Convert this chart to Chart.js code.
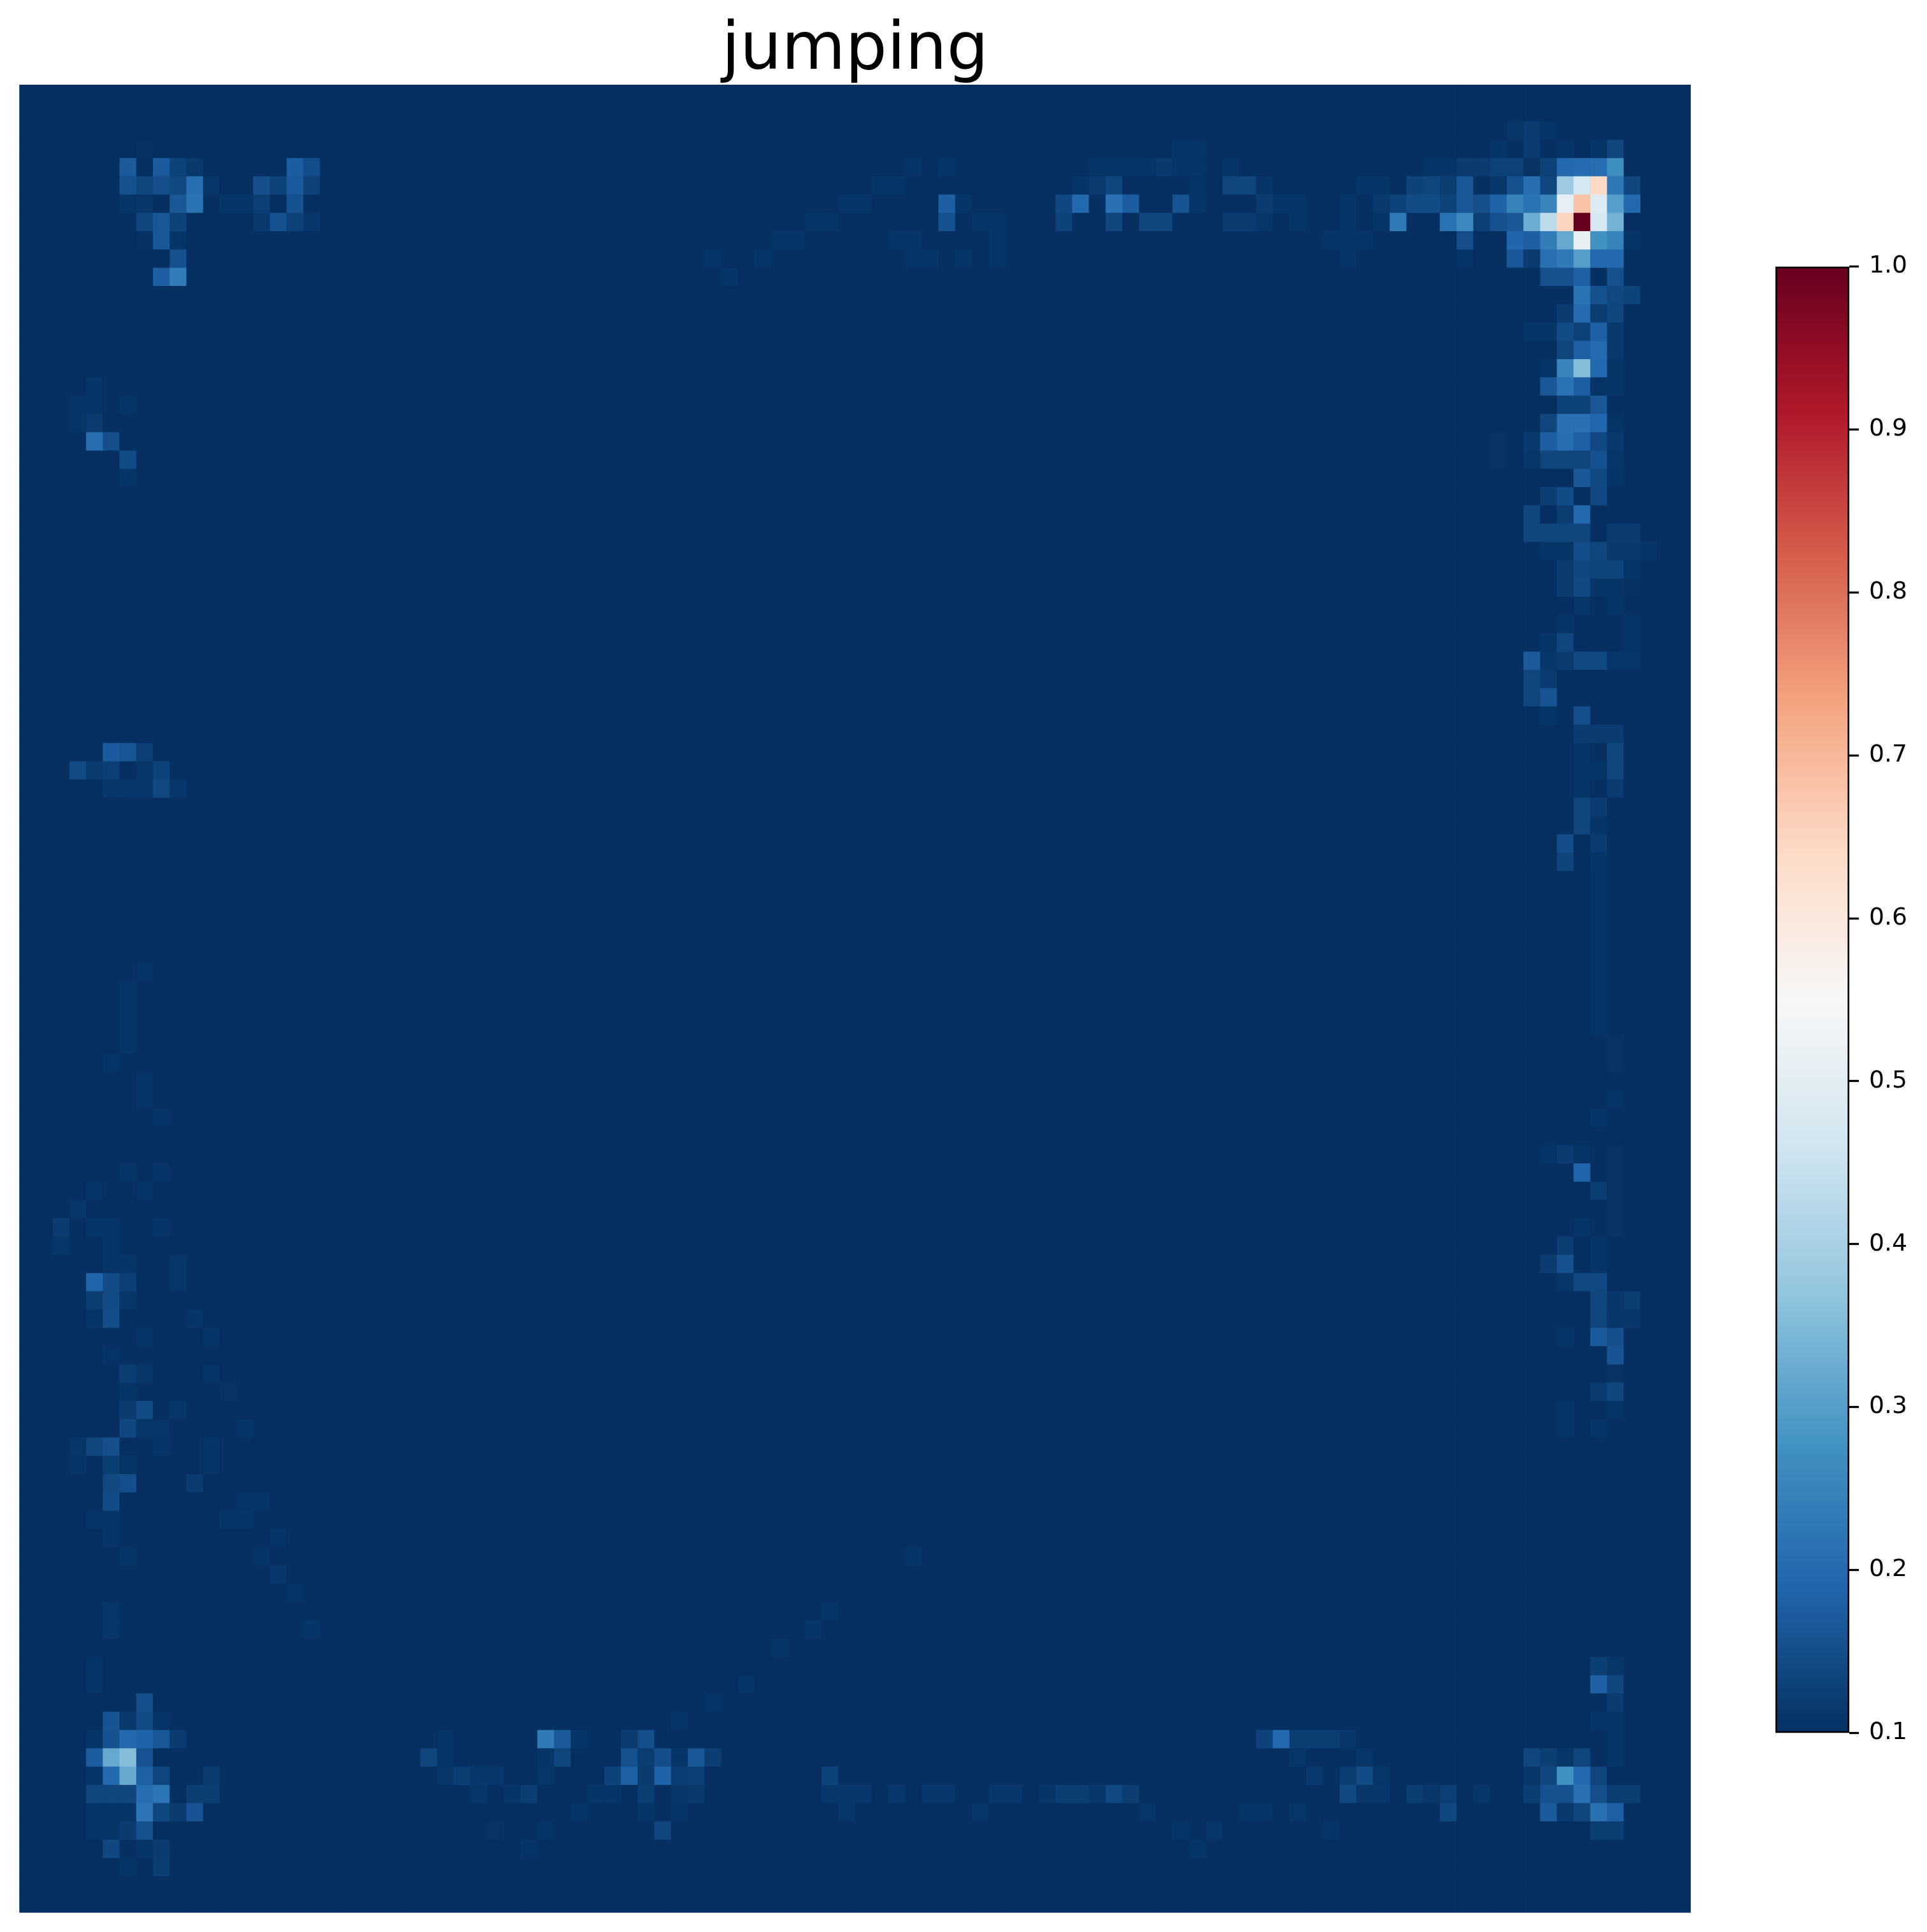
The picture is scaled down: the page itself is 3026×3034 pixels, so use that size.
<!DOCTYPE html>
<html>
<head>
<meta charset="utf-8">
<title>jumping</title>
<script src="https://cdn.jsdelivr.net/npm/chart.js@4"></script>
<style>
    html, body { margin: 0; padding: 0; background: #fff; overflow: hidden; }
    #heat { position: absolute; left: 0; top: 0; }
    #bar { position: absolute; left: 2780px; top: 380px; }
</style>
</head>
<body>
<canvas id="heat" width="3026" height="3034"></canvas>
<canvas id="bar" width="240" height="2380"></canvas>
<script>
const titleText = 'jumping';
const columnLabels = Array.from({ length: 100 }, (_, i) => i);
const rowLabels = Array.from({ length: 100 }, (_, i) => i);
const colorbarTicks = [0.1, 0.2, 0.3, 0.4, 0.5, 0.6, 0.7, 0.8, 0.9, 1.0];
const vMin = 0.1;
const vMax = 1.0;

// RdBu_r
const rdbu = ['#053061', '#2166ac', '#4393c3', '#92c5de', '#d1e5f0', '#f7f7f7', '#fddbc7', '#f4a582', '#d6604d', '#b2182b', '#67001f'];

// everything not listed sits at vMin
// [row, col, value]
const hotCells = [
    [2,89,.11],[2,90,.118],[2,91,.108],
    [3,7,.103],[3,53,.101],[3,69,.108],[3,70,.108],[3,88,.108],[3,90,.118],[3,92,.108],[3,94,.108],[3,95,.135],
    [4,6,.17],[4,8,.17],[4,9,.13],[4,10,.115],[4,16,.175],[4,17,.148],[4,53,.108],[4,55,.108],[4,64,.108],[4,65,.108],[4,66,.108],[4,67,.108],[4,68,.115],[4,69,.108],[4,70,.108],[4,72,.108],[4,84,.108],[4,85,.108],[4,86,.118],[4,87,.118],[4,88,.128],[4,89,.128],[4,90,.105],[4,91,.128],[4,92,.195],[4,93,.2],[4,94,.205],[4,95,.27],
    [5,6,.155],[5,7,.135],[5,8,.15],[5,9,.14],[5,10,.205],[5,11,.11],[5,14,.15],[5,15,.13],[5,16,.168],[5,17,.128],[5,51,.108],[5,52,.108],[5,63,.108],[5,64,.118],[5,65,.135],[5,70,.106],[5,72,.135],[5,73,.135],[5,74,.108],[5,80,.108],[5,81,.108],[5,83,.13],[5,84,.135],[5,85,.12],[5,86,.165],[5,88,.112],[5,89,.155],[5,90,.205],[5,91,.135],[5,92,.385],[5,93,.47],[5,94,.64],[5,95,.225],[5,96,.135],
    [6,6,.108],[6,7,.112],[6,9,.165],[6,10,.215],[6,12,.108],[6,13,.108],[6,14,.125],[6,16,.155],[6,49,.108],[6,50,.108],[6,55,.178],[6,56,.108],[6,62,.138],[6,63,.195],[6,65,.212],[6,66,.175],[6,69,.16],[6,70,.108],[6,74,.118],[6,75,.108],[6,76,.108],[6,79,.108],[6,81,.115],[6,82,.13],[6,83,.145],[6,84,.145],[6,85,.13],[6,86,.165],[6,87,.15],[6,88,.185],[6,89,.245],[6,90,.215],[6,91,.25],[6,92,.51],[6,93,.68],[6,94,.49],[6,95,.3],[6,96,.195],
    [7,7,.135],[7,8,.165],[7,9,.13],[7,14,.115],[7,15,.155],[7,16,.128],[7,17,.112],[7,47,.108],[7,48,.108],[7,55,.155],[7,57,.108],[7,58,.108],[7,62,.13],[7,65,.135],[7,67,.135],[7,68,.135],[7,72,.118],[7,73,.118],[7,74,.11],[7,76,.108],[7,79,.108],[7,81,.108],[7,82,.23],[7,85,.215],[7,86,.26],[7,87,.125],[7,88,.155],[7,89,.165],[7,90,.325],[7,91,.43],[7,92,.65],[7,93,1.0],[7,94,.47],[7,95,.335],
    [8,7,.102],[8,8,.165],[8,9,.108],[8,45,.108],[8,46,.108],[8,52,.108],[8,53,.108],[8,58,.108],[8,78,.108],[8,79,.108],[8,80,.108],[8,86,.15],[8,89,.19],[8,90,.178],[8,91,.235],[8,92,.32],[8,93,.515],[8,94,.275],[8,95,.245],[8,96,.106],
    [9,9,.155],[9,41,.108],[9,44,.108],[9,53,.108],[9,54,.108],[9,56,.108],[9,58,.108],[9,79,.108],[9,86,.106],[9,89,.165],[9,90,.118],[9,91,.21],[9,92,.23],[9,93,.3],[9,94,.195],[9,95,.195],
    [10,8,.178],[10,9,.235],[10,42,.108],[10,91,.155],[10,92,.155],[10,93,.18],[10,95,.155],
    [11,93,.215],[11,94,.155],[11,95,.14],[11,96,.13],
    [12,92,.118],[12,93,.2],[12,94,.12],[12,95,.135],
    [13,90,.108],[13,91,.108],[13,92,.145],[13,93,.13],[13,94,.18],[13,95,.115],
    [14,92,.135],[14,93,.18],[14,94,.2],[14,95,.115],
    [15,91,.106],[15,92,.25],[15,93,.355],[15,94,.197],[15,95,.108],
    [16,4,.108],[16,91,.165],[16,92,.215],[16,93,.178],[16,94,.107],[16,95,.108],
    [17,3,.108],[17,4,.108],[17,6,.108],[17,92,.13],[17,93,.13],[17,94,.165],
    [18,3,.106],[18,4,.118],[18,91,.135],[18,92,.212],[18,93,.213],[18,94,.192],[18,95,.107],
    [19,4,.205],[19,5,.15],[19,88,.105],[19,90,.115],[19,91,.178],[19,92,.205],[19,93,.18],[19,94,.14],[19,95,.115],
    [20,6,.145],[20,88,.105],[20,90,.11],[20,91,.135],[20,92,.135],[20,93,.135],[20,94,.155],[20,95,.11],
    [21,6,.108],[21,93,.165],[21,94,.14],[21,95,.108],
    [22,91,.122],[22,92,.145],[22,94,.14],
    [23,90,.135],[23,92,.12],[23,93,.195],
    [24,90,.135],[24,91,.135],[24,92,.135],[24,93,.135],[24,95,.118],[24,96,.118],
    [25,91,.108],[25,92,.108],[25,93,.148],[25,94,.135],[25,95,.115],[25,96,.115],[25,97,.108],
    [26,92,.118],[26,93,.138],[26,94,.133],[26,95,.133],[26,96,.108],
    [27,92,.118],[27,93,.142],[27,94,.108],[27,95,.108],[27,96,.104],
    [28,93,.11],[28,95,.108],
    [29,92,.108],[29,96,.106],
    [30,91,.108],[30,92,.135],[30,96,.106],
    [31,90,.17],[31,91,.11],[31,92,.118],[31,93,.14],[31,94,.14],[31,95,.11],[31,96,.11],
    [32,90,.135],[32,91,.118],
    [33,90,.135],[33,91,.16],
    [34,91,.108],[34,93,.15],
    [35,93,.118],[35,94,.118],[35,95,.118],
    [36,5,.172],[36,6,.162],[36,7,.125],[36,93,.108],[36,95,.135],
    [37,3,.145],[37,4,.118],[37,5,.125],[37,7,.11],[37,8,.13],[37,93,.108],[37,94,.107],[37,95,.135],
    [38,5,.112],[38,6,.112],[38,7,.112],[38,8,.14],[38,9,.112],[38,93,.108],[38,95,.118],
    [39,93,.135],[39,94,.118],
    [40,93,.135],[40,94,.108],
    [41,92,.148],[41,94,.118],
    [42,92,.133],[42,94,.108],
    [43,94,.107],[44,94,.107],[45,94,.107],[46,94,.107],[47,94,.107],
    [48,7,.106],[48,94,.107],
    [49,6,.108],[49,94,.107],
    [50,6,.108],[50,94,.107],
    [51,6,.108],[51,94,.107],
    [52,6,.108],[52,95,.105],
    [53,5,.106],[53,95,.105],
    [54,7,.108],
    [55,7,.108],[55,95,.107],
    [56,8,.106],[56,94,.108],
    [58,91,.106],[58,92,.118],[58,93,.108],[58,95,.105],
    [59,6,.108],[59,8,.106],[59,93,.19],[59,95,.105],
    [60,4,.108],[60,7,.106],[60,94,.12],[60,95,.105],
    [61,3,.11],[61,95,.105],
    [62,2,.118],[62,4,.108],[62,5,.108],[62,8,.108],[62,93,.108],[62,95,.105],
    [63,2,.11],[63,5,.108],[63,92,.122],[63,94,.108],
    [64,5,.108],[64,6,.108],[64,9,.11],[64,91,.118],[64,92,.155],[64,94,.108],
    [65,4,.188],[65,5,.145],[65,6,.125],[65,9,.11],[65,92,.11],[65,93,.14],[65,94,.14],
    [66,4,.12],[66,5,.145],[66,6,.11],[66,94,.135],[66,95,.112],[66,96,.122],
    [67,4,.107],[67,5,.148],[67,10,.108],[67,94,.135],[67,95,.11],[67,96,.112],
    [68,7,.108],[68,11,.107],[68,92,.108],[68,94,.168],[68,95,.15],
    [69,5,.106],[69,95,.16],
    [70,6,.12],[70,7,.11],[70,11,.107],[70,95,.105],
    [71,6,.108],[71,12,.105],[71,94,.118],[71,95,.135],
    [72,6,.118],[72,7,.145],[72,9,.11],[72,92,.108],[72,95,.107],
    [73,6,.138],[73,7,.11],[73,8,.11],[73,13,.108],[73,92,.108],[73,94,.108],
    [74,3,.11],[74,4,.135],[74,5,.15],[74,8,.108],[74,11,.108],
    [75,3,.108],[75,5,.122],[75,6,.108],[75,11,.108],
    [76,5,.14],[76,6,.15],[76,10,.118],
    [77,5,.145],[77,13,.107],[77,14,.107],
    [78,4,.108],[78,5,.108],[78,12,.108],[78,13,.108],
    [79,5,.108],[79,15,.107],
    [80,6,.108],[80,14,.107],[80,53,.108],
    [81,15,.112],
    [82,16,.107],
    [83,5,.11],[83,48,.108],
    [84,5,.11],[84,17,.108],[84,47,.108],
    [85,45,.108],
    [86,4,.107],[86,94,.122],[86,95,.11],
    [87,4,.107],[87,43,.106],[87,94,.18],[87,95,.135],
    [88,7,.15],[88,41,.107],[88,95,.118],
    [89,5,.16],[89,6,.115],[89,7,.145],[89,8,.108],[89,39,.108],[89,94,.108],[89,95,.108],
    [90,4,.108],[90,5,.155],[90,6,.195],[90,7,.185],[90,8,.165],[90,9,.118],[90,25,.108],[90,31,.23],[90,32,.168],[90,33,.108],[90,36,.118],[90,37,.15],[90,74,.13],[90,75,.197],[90,76,.122],[90,77,.122],[90,78,.122],[90,79,.112],[90,95,.108],
    [91,4,.175],[91,5,.32],[91,6,.355],[91,7,.16],[91,24,.135],[91,25,.108],[91,31,.108],[91,32,.135],[91,36,.155],[91,37,.12],[91,38,.148],[91,39,.108],[91,40,.165],[91,41,.122],[91,76,.11],[91,80,.11],[91,90,.135],[91,91,.122],[91,92,.11],[91,93,.135],[91,95,.108],
    [92,4,.108],[92,5,.197],[92,6,.32],[92,7,.18],[92,8,.135],[92,11,.118],[92,25,.11],[92,26,.122],[92,27,.112],[92,28,.112],[92,31,.11],[92,35,.13],[92,36,.18],[92,37,.118],[92,38,.185],[92,39,.122],[92,40,.125],[92,48,.13],[92,77,.115],[92,79,.122],[92,80,.145],[92,81,.11],[92,90,.11],[92,91,.138],[92,92,.275],[92,93,.197],[92,94,.135],
    [93,4,.135],[93,5,.135],[93,6,.135],[93,7,.205],[93,8,.22],[93,10,.122],[93,11,.122],[93,27,.11],[93,29,.108],[93,30,.122],[93,34,.108],[93,35,.108],[93,37,.12],[93,39,.11],[93,40,.115],[93,48,.112],[93,49,.112],[93,50,.112],[93,52,.112],[93,54,.112],[93,55,.112],[93,58,.112],[93,59,.112],[93,61,.108],[93,62,.122],[93,63,.122],[93,64,.112],[93,65,.14],[93,66,.122],[93,79,.14],[93,80,.112],[93,81,.112],[93,83,.122],[93,84,.112],[93,85,.125],[93,87,.11],[93,90,.122],[93,91,.155],[93,92,.155],[93,93,.21],[93,94,.15],[93,95,.122],[93,96,.122],
    [94,4,.108],[94,5,.108],[94,6,.108],[94,7,.218],[94,8,.138],[94,9,.118],[94,10,.16],[94,33,.108],[94,37,.108],[94,39,.108],[94,49,.11],[94,57,.11],[94,67,.11],[94,73,.108],[94,74,.108],[94,76,.11],[94,85,.138],[94,91,.17],[94,92,.115],[94,93,.135],[94,94,.213],[94,95,.18],
    [95,4,.108],[95,5,.108],[95,6,.118],[95,7,.155],[95,28,.105],[95,31,.107],[95,38,.135],[95,69,.108],[95,71,.11],[95,78,.108],[95,94,.122],[95,95,.122],
    [96,5,.138],[96,7,.108],[96,8,.118],[96,30,.107],[96,70,.108],
    [97,6,.108],[97,8,.122]
];

const values = new Map(hotCells.map(c => [c[0] + ':' + c[1], c[2]]));

function hexToRgb(hex) {
    return [1, 3, 5].map(i => parseInt(hex.slice(i, i + 2), 16));
}

function cellColor(row, col) {
    const v = values.has(row + ':' + col) ? values.get(row + ':' + col) : vMin;
    const t = Math.min(1, Math.max(0, (v - vMin) / (vMax - vMin))) * (rdbu.length - 1);
    const i = Math.min(rdbu.length - 2, Math.floor(t));
    const a = hexToRgb(rdbu[i]);
    const b = hexToRgb(rdbu[i + 1]);
    const rgb = a.map((x, k) => Math.round(x + (b[k] - x) * (t - i)));
    return `rgb(${rgb[0]},${rgb[1]},${rgb[2]})`;
}

Chart.defaults.font.family = '"DejaVu Sans"';
Chart.defaults.color = '#000';
Chart.defaults.animation = false;

// stops white showing through the seams between bars
const areaFill = {
    id: 'areaFill',
    beforeDatasetsDraw(chart) {
        const { ctx, chartArea: a } = chart;
        ctx.save();
        ctx.fillStyle = rdbu[0];
        ctx.fillRect(a.left, a.top, a.width, a.height);
        ctx.restore();
    }
};

// one stacked dataset per image row, row 0 on top
new Chart(document.getElementById('heat'), {
    type: 'bar',
    plugins: [areaFill],
    data: {
        labels: columnLabels,
        datasets: rowLabels.map(row => ({
            data: columnLabels.map(() => 1),
            backgroundColor: columnLabels.map(col => cellColor(row, col)),
            borderWidth: 0,
            barPercentage: 1,
            categoryPercentage: 1
        }))
    },
    options: {
        responsive: false,
        devicePixelRatio: 1,
        events: [],
        layout: { padding: { left: 30.5, right: 371, top: 0, bottom: 30.5 } },
        plugins: {
            legend: { display: false },
            tooltip: { enabled: false },
            title: {
                display: true,
                text: titleText,
                color: '#000',
                font: { size: 103, weight: 'normal', lineHeight: 1 },
                padding: { top: 30, bottom: 0 }
            }
        },
        scales: {
            x: { display: false, stacked: true },
            y: { display: false, stacked: true, reverse: true, min: 0, max: 100 }
        }
    }
});

new Chart(document.getElementById('bar'), {
    type: 'bar',
    data: {
        labels: ['scale'],
        datasets: [{
            data: [[vMin, vMax]],
            barPercentage: 1,
            categoryPercentage: 1,
            borderWidth: 3,
            borderColor: '#000',
            borderSkipped: false,
            backgroundColor(c) {
                const { ctx, chartArea } = c.chart;
                if (!chartArea) return '#053061';
                const g = ctx.createLinearGradient(0, chartArea.bottom, 0, chartArea.top);
                rdbu.forEach((col, i) => g.addColorStop(i / (rdbu.length - 1), col));
                return g;
            }
        }]
    },
    options: {
        responsive: false,
        devicePixelRatio: 1,
        events: [],
        layout: { padding: { left: 8, top: 0, bottom: 0 } },
        plugins: { legend: { display: false }, tooltip: { enabled: false } },
        scales: {
            x: { display: false },
            y: {
                position: 'right',
                min: vMin,
                max: vMax,
                afterFit(s) { s.width = 116; },
                afterBuildTicks(s) { s.ticks = colorbarTicks.map(value => ({ value })); },
                border: { display: false },
                grid: { drawOnChartArea: false, color: '#000', tickLength: 15, tickWidth: 3.3 },
                ticks: {
                    color: '#000',
                    padding: 16,
                    autoSkip: false,
                    maxRotation: 0,
                    font: { size: 37.7 },
                    callback: v => v.toFixed(1)
                }
            }
        }
    }
});
</script>
</body>
</html>
